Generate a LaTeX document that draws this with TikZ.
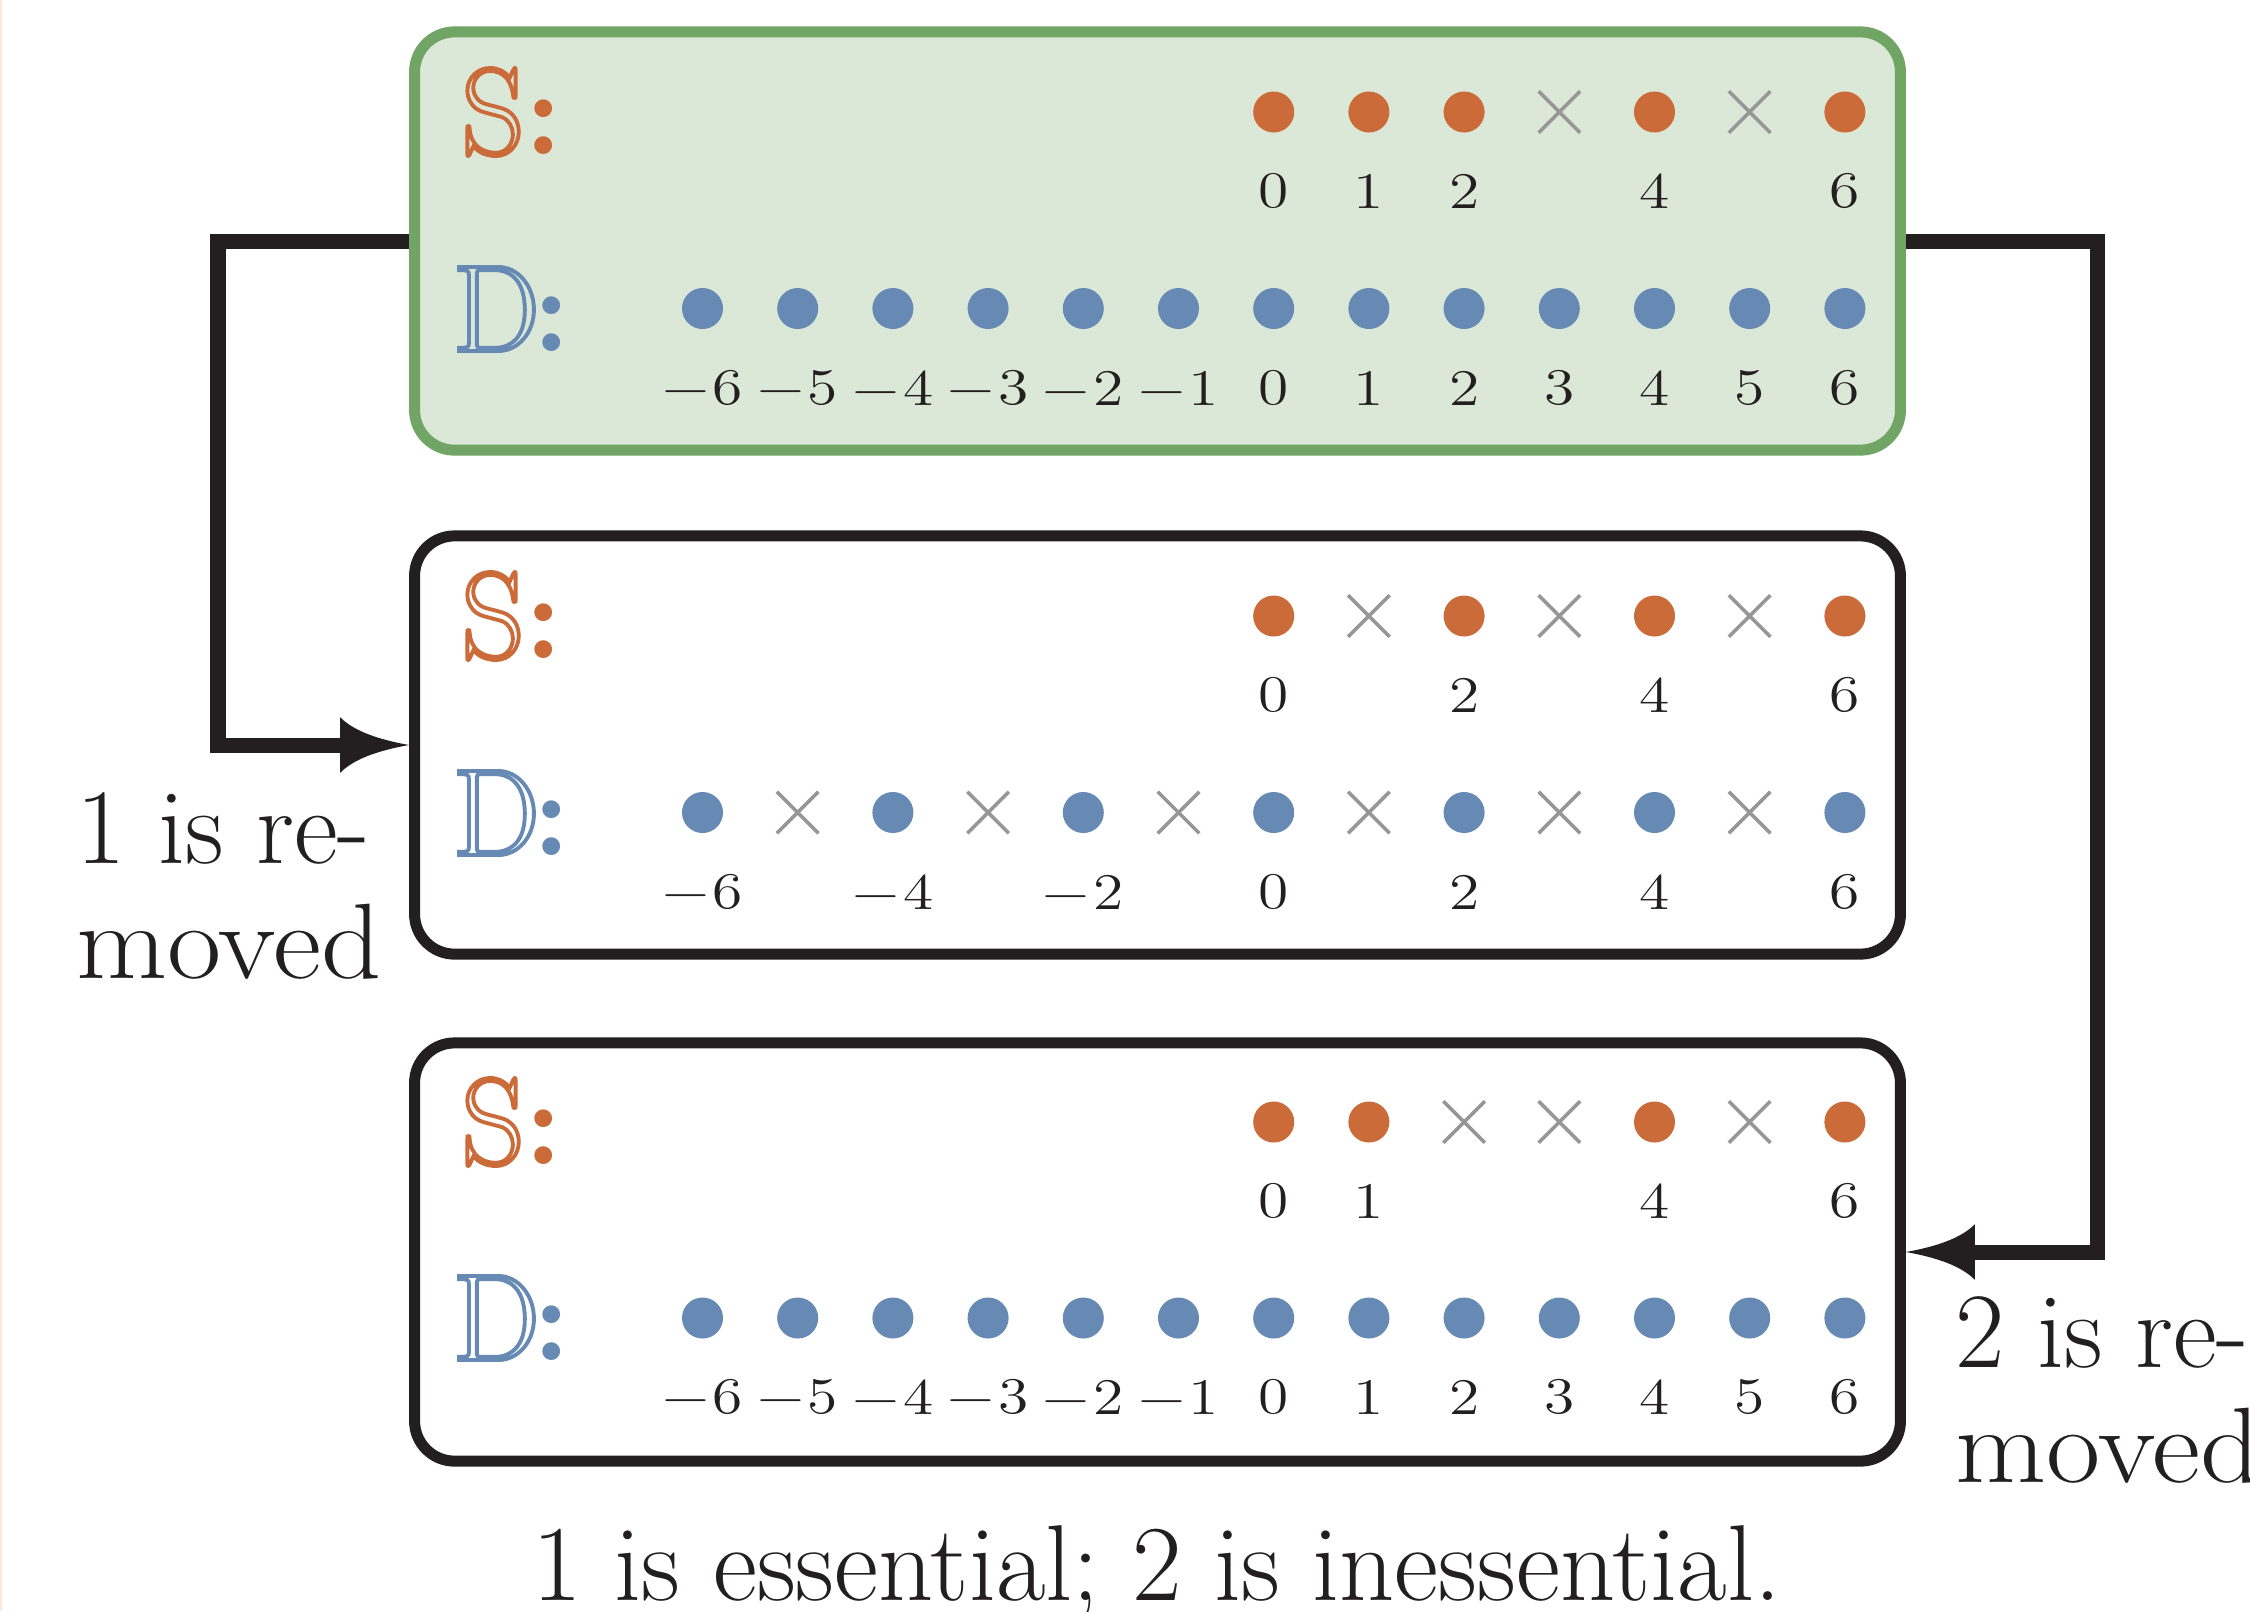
\documentclass[tikz,border=0pt]{standalone}
\usepackage{fontspec}
\usetikzlibrary{arrows.meta,shapes.misc}
\definecolor{orangeC}{RGB}{202,107,57}
\definecolor{blueC}{RGB}{102,138,179}
\definecolor{greenF}{RGB}{220,232,215}
\definecolor{greenB}{RGB}{112,165,102}
\definecolor{blackC}{RGB}{35,31,32}
\definecolor{grayC}{RGB}{150,150,150}
\definecolor{peachC}{RGB}{252,232,220}

% outlined (hollow) letter, as in the reference
\newcommand{\hollow}[1]{\special{pdf:literal direct 1 Tr 1.1 w}#1\special{pdf:literal direct 0 Tr}}

\pgfdeclarearrow{
  name = CurvedTip,
  parameters = {\the\pgfarrowlength,\the\pgfarrowwidth},
  setup code = {
    \pgfarrowssettipend{0pt}
    \pgfarrowssetbackend{-\pgfarrowlength}
    \pgfarrowssetlineend{-0.7\pgfarrowlength}
    \pgfarrowshullpoint{0pt}{0pt}
    \pgfarrowsupperhullpoint{-\pgfarrowlength}{0.5\pgfarrowwidth}
    \pgfarrowssavethe\pgfarrowlength
    \pgfarrowssavethe\pgfarrowwidth
  },
  drawing code = {
    \pgfpathmoveto{\pgfqpoint{0pt}{0pt}}
    \pgfpathcurveto{\pgfqpoint{-0.45\pgfarrowlength}{0.1\pgfarrowwidth}}{\pgfqpoint{-0.8\pgfarrowlength}{0.25\pgfarrowwidth}}{\pgfqpoint{-\pgfarrowlength}{0.5\pgfarrowwidth}}
    \pgfpathlineto{\pgfqpoint{-\pgfarrowlength}{-0.5\pgfarrowwidth}}
    \pgfpathcurveto{\pgfqpoint{-0.8\pgfarrowlength}{-0.25\pgfarrowwidth}}{\pgfqpoint{-0.45\pgfarrowlength}{-0.1\pgfarrowwidth}}{\pgfqpoint{0pt}{0pt}}
    \pgfpathclose
    \pgfusepathqfill
  },
  defaults = {length = 12pt, width = 10pt}
}

\newcommand{\nm}[1]{\scalebox{1.2}[1]{\ifnum#1<0 −\hspace{0.06em}\the\numexpr-#1\relax\else#1\fi}}

\tikzset{
  box/.style={rectangle, rounded corners=0.4cm, minimum width=14.85cm, minimum height=4.18cm, inner sep=0pt, line width=3.13pt},
  topbox/.style={box, draw=greenB, fill=greenF},
  plainbox/.style={box, draw=blackC, fill=white},
  sdot/.style={circle, fill=orangeC, minimum size=0.41cm, inner sep=0pt},
  ddot/.style={circle, fill=blueC, minimum size=0.41cm, inner sep=0pt},
  xmark/.style={cross out, draw=grayC, minimum size=0.38cm, inner sep=0pt, line width=1pt},
  num/.style={font=\fontsize{14.6}{17}\selectfont, text=blackC, inner sep=0pt},
  slabel/.style={font=\fontsize{35}{40}\selectfont, text=orangeC, anchor=west, inner sep=0pt},
  dlabel/.style={font=\fontsize{35}{40}\selectfont, text=blueC, anchor=west, inner sep=0pt},
  lbl/.style={font=\fontsize{30.5}{32.7}\selectfont, text=blackC, align=left, inner sep=0pt, anchor=base west},
  captext/.style={font=\fontsize{30.7}{34}\selectfont, text=blackC, inner sep=0pt, anchor=base},
  conn/.style={draw=blackC, line width=4.27pt, -{CurvedTip[length=19.6pt,width=15.8pt]}},
}

\begin{document}
\begin{tikzpicture}[x=0.01cm,y=-0.01cm]
\path[use as bounding box, fill=white] (0,0) rectangle (2250,1611);
\fill[peachC] (0,0) rectangle (2,1611);

% ---------- boxes ----------
\node[topbox]   (A) at (1157.5,241) {};
\node[plainbox] (B) at (1157.5,745) {};
\node[plainbox] (C) at (1157.5,1252) {};

% ---------- box A ----------
\node[slabel] (AS) at (461,112) {\hollow{S}{\bfseries :}};
\node[dlabel] (AD) at (452,309) {\hollow{D}\kern-2pt{\bfseries :}};
\foreach \i in {0,1,2,4,6} {
  \node[sdot] (AS\i) at ({1273.7+95.2*\i},112) {};
  \node[num] (ASn\i) at ({1273.7+95.2*\i},191) {\nm{\i}};
}
\foreach \i in {3,5} \node[xmark] (ASx\i) at ({1273.7+95.2*\i},112) {};
\foreach \j in {0,...,12} {
  \pgfmathtruncatemacro\v{\j-6}
  \node[ddot] (AD\j) at ({702.5+95.2*\j},308.5) {};
  \node[num] (ADn\j) at ({702.5+95.2*\j},388) {\nm{\v}};
}

% ---------- box B ----------
\node[slabel] (BS) at (461,616) {\hollow{S}{\bfseries :}};
\node[dlabel] (BD) at (452,813) {\hollow{D}\kern-2pt{\bfseries :}};
\foreach \i in {0,2,4,6} {
  \node[sdot] (BS\i) at ({1273.7+95.2*\i},616) {};
  \node[num] (BSn\i) at ({1273.7+95.2*\i},695) {\nm{\i}};
}
\foreach \i in {1,3,5} \node[xmark] (BSx\i) at ({1273.7+95.2*\i},616) {};
\foreach \j in {0,2,...,12} {
  \pgfmathtruncatemacro\v{\j-6}
  \node[ddot] (BD\j) at ({702.5+95.2*\j},812.5) {};
  \node[num] (BDn\j) at ({702.5+95.2*\j},892) {\nm{\v}};
}
\foreach \j in {1,3,...,11} \node[xmark] (BDx\j) at ({702.5+95.2*\j},812.5) {};

% ---------- box C ----------
\node[slabel] (CS) at (461,1122) {\hollow{S}{\bfseries :}};
\node[dlabel] (CD) at (452,1318) {\hollow{D}\kern-2pt{\bfseries :}};
\foreach \i in {0,1,4,6} {
  \node[sdot] (CS\i) at ({1273.7+95.2*\i},1122) {};
  \node[num] (CSn\i) at ({1273.7+95.2*\i},1201) {\nm{\i}};
}
\foreach \i in {2,3,5} \node[xmark] (CSx\i) at ({1273.7+95.2*\i},1122) {};
\foreach \j in {0,...,12} {
  \pgfmathtruncatemacro\v{\j-6}
  \node[ddot] (CD\j) at ({702.5+95.2*\j},1318) {};
  \node[num] (CDn\j) at ({702.5+95.2*\j},1397) {\nm{\v}};
}

% ---------- connectors ----------
\coordinate (LC) at (218,241);
\coordinate (RC) at (2097,241);
\draw[conn] (A.west) -| (LC |- B.west) -- (B.west);
\draw[conn] (A.east) -| (RC |- C.east) -- (C.east);

% ---------- labels ----------
\node[lbl] (L1) at (76,978) {1 is re-\\\scalebox{1.1}[1]{moved}};
\node[lbl] (L2) at (1955,1482) {2 is re-\\\scalebox{1.1}[1]{moved}};
\node[captext] (capt) at (1157,1600) {1 is essential; 2 is inessential.};
\end{tikzpicture}
\end{document}
